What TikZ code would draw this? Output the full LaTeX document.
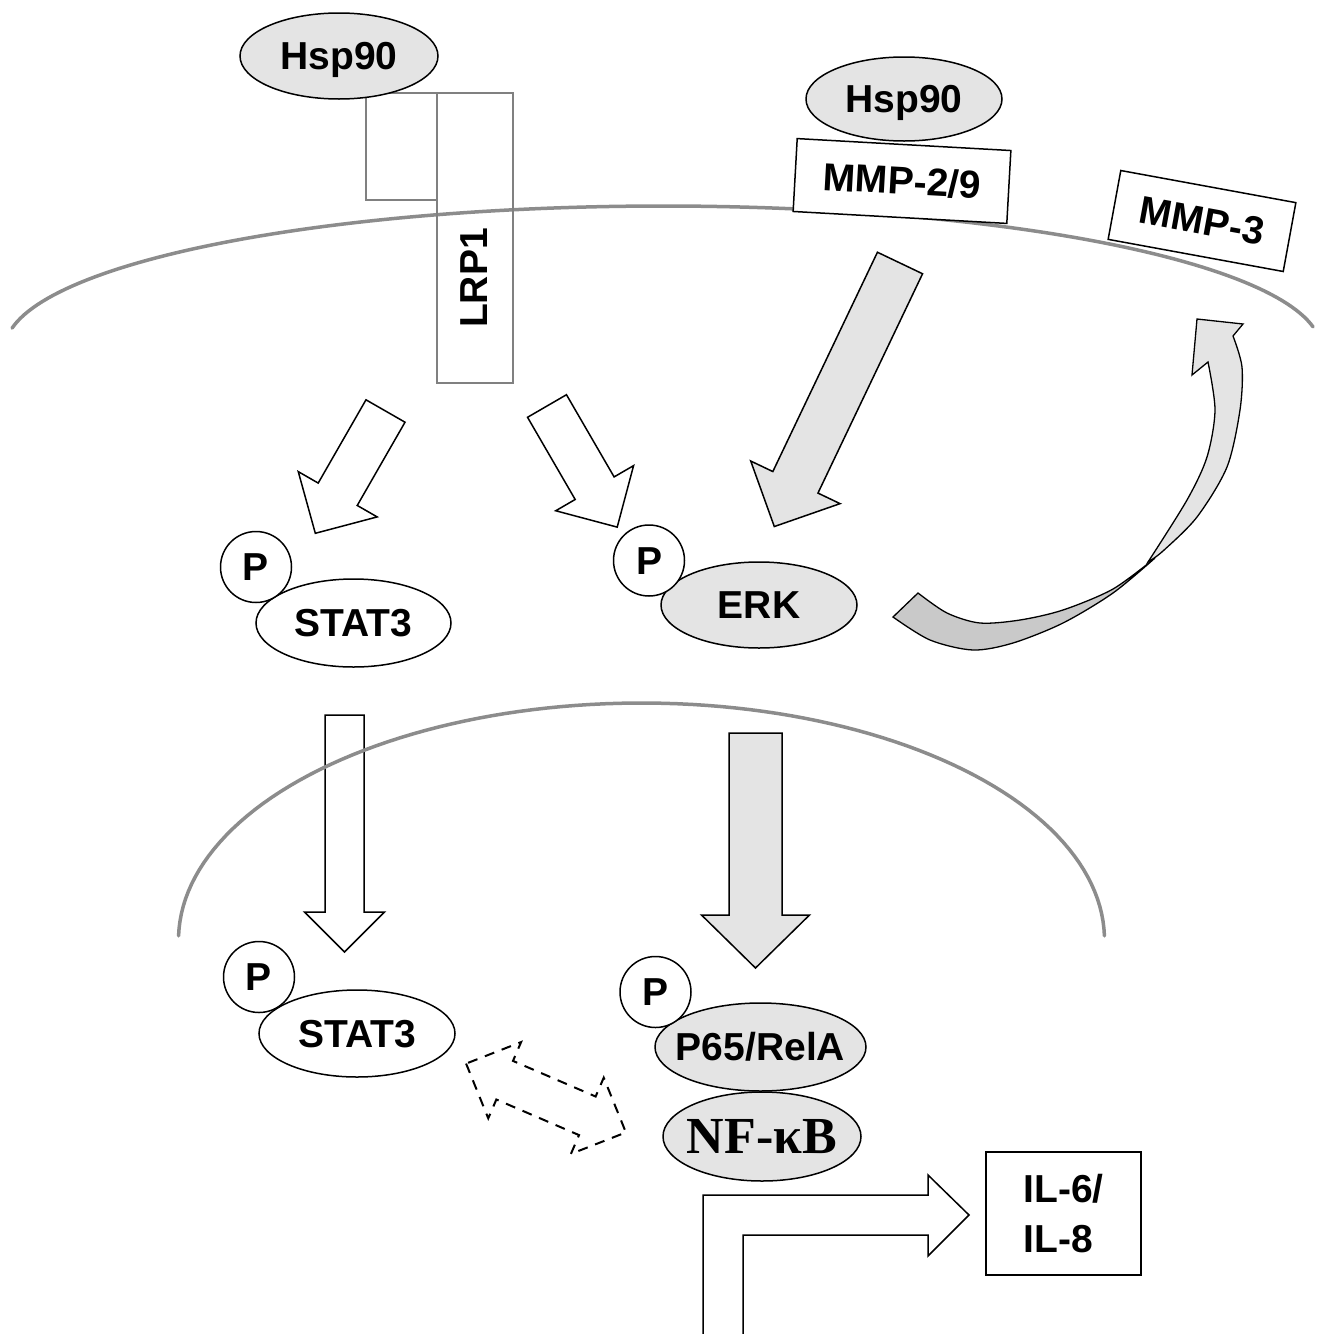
\documentclass[tikz,border=0pt]{standalone}
\usepackage{fontspec}
\setmainfont{Liberation Sans}
\newfontfamily\serifface{Liberation Serif}
\usetikzlibrary{shapes.geometric}
\definecolor{lgray}{HTML}{E4E4E4}
\definecolor{dgray}{HTML}{C9C9C9}
\definecolor{memcol}{HTML}{8C8C8C}
\definecolor{rectcol}{HTML}{808080}
\newcommand\zb[1]{\makebox[0pt]{#1}}
% #1 style, #2 x, #3 y, #4 angle, #5 length, #6 shaft width, #7 head width, #8 head length
\newcommand\mkarrow[8]{%
\begin{scope}[shift={(#2,#3)},rotate=#4]
\draw[#1] (0,{#6/2}) -- ({#5-#8},{#6/2}) -- ({#5-#8},{#7/2}) -- (#5,0) -- ({#5-#8},{-#7/2}) -- ({#5-#8},{-#6/2}) -- (0,{-#6/2}) -- cycle;
\end{scope}}
\begin{document}
\begin{tikzpicture}[x=1pt,y=-1pt,
 lab/.style={font=\fontsize{39}{47}\selectfont\bfseries, text height=27pt, text depth=0pt, inner sep=0pt},
 prot/.style={ellipse, draw=black, line width=1.5pt, lab},
 pcirc/.style={circle, draw=black, fill=white, line width=1.5pt, minimum size=71pt, lab},
 tbox/.style={rectangle, draw=black, fill=white, line width=1.5pt, lab},
 membrane/.style={draw=memcol, line width=3.5pt, line cap=round},
 outlinerect/.style={rectangle, draw=rectcol, line width=1.3pt, inner sep=0pt},
 whitearrow/.style={draw=black, fill=white, line width=1.5pt},
 grayarrow/.style={draw=black, fill=lgray, line width=1.5pt},
 dasharrow/.style={draw=black, line width=2pt, dash pattern=on 10pt off 8pt},
]
\useasboundingbox (0,0) rectangle (1325,1334);
\fill[white] (0,0) rectangle (1325,1334);

% plasma membrane
\draw[membrane] plot[domain=171.6:8.9, samples=120] ({663+658*cos(\x)}, {349-143*sin(\x)});

% LRP1 and Hsp90 (left)
\node[outlinerect, minimum width=71pt, minimum height=107pt] (hsprect) at (401.5,146.5) {};
\node[outlinerect, minimum width=76pt, minimum height=290pt] (lrp) at (475,238) {};
\node[lab, rotate=90] (lrplab) at (474,278) {LRP1};
\node[prot, fill=lgray, minimum width=198pt, minimum height=86pt] (hspA) at (339,56) {\zb{Hsp90}};

% Hsp90 / MMPs (right)
\node[prot, fill=lgray, minimum width=196pt, minimum height=84pt] (hspB) at (904,99) {\zb{Hsp90}};
\node[tbox, minimum width=214pt, minimum height=73pt, rotate=-3.2] (mmp29) at (902,181) {MMP-2/9};
\node[tbox, minimum width=178pt, minimum height=70pt, rotate=-10.4] (mmp3) at (1202,221) {MMP-3};

% block arrows
\mkarrow{whitearrow}{385.5}{411}{240.15}{141}{45}{91}{45}
\mkarrow{whitearrow}{547}{406}{300.1}{140}{45}{90}{45}
\mkarrow{grayarrow}{900}{263}{244.5}{292}{50}{99}{49}
\mkarrow{whitearrow}{344.5}{715}{270}{237}{39}{80}{40}
\mkarrow{grayarrow}{755.5}{733}{270}{235}{53}{108}{53}

% nuclear membrane
\draw[membrane] plot[domain=179:1, samples=100] ({641.5+463*cos(\x)}, {940-237*sin(\x)});

% cytoplasmic proteins
\node[prot, fill=white, minimum width=195pt, minimum height=88pt] (stat3a) at (353.5,623) {\zb{STAT3}};
\node[pcirc] (pa) at (256,567) {P};
\node[prot, fill=lgray, minimum width=196pt, minimum height=86pt] (erk) at (759,605) {\zb{ERK}};
\node[pcirc] (pb) at (649,560.5) {P};

% nuclear proteins
\node[prot, fill=white, minimum width=196pt, minimum height=87pt] (stat3b) at (357,1033.5) {\zb{STAT3}};
\node[pcirc] (pc) at (259,977) {P};
\node[prot, fill=lgray, minimum width=211pt, minimum height=88pt] (p65) at (760.5,1047) {\zb{P65/RelA}};
\node[pcirc] (pd) at (655.5,992) {P};
\node[prot, fill=lgray, minimum width=198pt, minimum height=89pt, font=\serifface\fontsize{52}{60}\selectfont\bfseries, text height=34pt] (nfkb) at (762,1136.5) {\zb{NF-κB}};

% dashed double arrow
\begin{scope}[shift={(546,1098)}, rotate=-23.3]
\draw[dasharrow] (-87,0) -- (-45,41.5) -- (-45,21) -- (45,21) -- (45,41.5) -- (87,0) -- (45,-41.5) -- (45,-21) -- (-45,-21) -- (-45,-41.5) -- cycle;
\end{scope}

% bent arrow and IL box
\draw[whitearrow] (703,1345) -- (703,1195) -- (928,1195) -- (928,1175) -- (969,1215) -- (928,1256) -- (928,1235) -- (743,1235) -- (743,1345) -- cycle;
\node[rectangle, draw=black, fill=white, line width=1.5pt, inner sep=0pt, minimum width=155pt, minimum height=123pt, align=left, font=\fontsize{39}{50}\selectfont\bfseries] (il) at (1063.5,1213.5) {IL-6/\\IL-8};

% curved arrow ERK -> MMP-3
\filldraw[draw=black, line width=1.3pt, fill=dgray] plot[smooth] coordinates {(893,617) (930,640) (973,650) (1013,643) (1063,623) (1113,593) (1155,558)} -- plot[smooth] coordinates {(1155,558) (1113,589) (1063,610) (1020,620) (980,623) (947,613) (918,593)} -- cycle;
\filldraw[draw=black, line width=1.3pt, fill=lgray, line join=miter] plot[smooth] coordinates {(1148,562) (1163,551) (1197,517) (1227,467) (1240,410) (1242,367) (1233,336)} -- (1243,324) -- (1197,319) -- (1192,375) -- (1208,362) -- plot[smooth] coordinates {(1208,362) (1215,410) (1207,457) (1187,500) (1148,562)} -- cycle;
\end{tikzpicture}
\end{document}
